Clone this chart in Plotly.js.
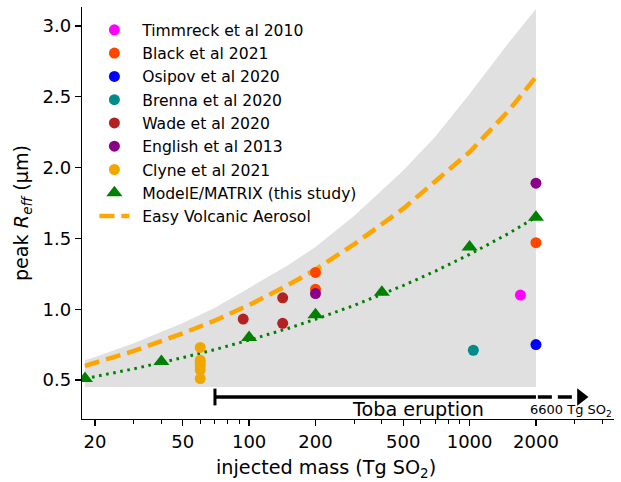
<!DOCTYPE html>
<html>
<head>
<meta charset="utf-8">
<script src="https://cdn.plot.ly/plotly-3.0.1.min.js"></script>
<style>html,body{margin:0;padding:0;background:#fff;}#chart{width:621px;height:482px;}</style>
</head>
<body>
<div id="chart"></div>
<script>
// ---- data ----
const timmreckX = [1700];            const timmreckY = [1.10];
const blackX = [200, 200, 2000];     const blackY = [1.26, 1.14, 1.47];
const osipovX = [2000];              const osipovY = [0.75];
const brennaX = [1040];              const brennaY = [0.71];
const wadeX = [94, 142, 142];        const wadeY = [0.93, 1.08, 0.90];
const englishX = [200, 2000];        const englishY = [1.11, 1.89];
const clyneX = [60, 60, 60, 60, 60, 60]; const clyneY = [0.73, 0.64, 0.62, 0.60, 0.57, 0.51];
const matrixX = [18, 40, 100, 200, 400, 1000, 2000];
const matrixY = [0.51, 0.63, 0.80, 0.96, 1.12, 1.44, 1.65];

const curveX  = [18, 20, 30, 50, 70, 100, 150, 200, 300, 500, 700, 1000, 1500, 2000];
const fitY    = [0.51, 0.524, 0.579, 0.658, 0.715, 0.782, 0.864, 0.929, 1.027, 1.167, 1.269, 1.387, 1.534, 1.65];
const evaY    = [0.60, 0.62, 0.705, 0.83, 0.92, 1.03, 1.17, 1.28, 1.46, 1.71, 1.90, 2.11, 2.40, 2.64];
const bandHigh = [0.64, 0.663, 0.76, 0.902, 1.01, 1.15, 1.31, 1.44, 1.66, 1.98, 2.22, 2.52, 2.88, 3.12];
const bandLow  = [0.45, 0.45, 0.45, 0.45, 0.45, 0.45, 0.45, 0.45, 0.45, 0.45, 0.45, 0.45, 0.45, 0.45];

const tobaSolidX = [70, 2000];
const tobaDashX = [2040, 2970];
const tobaHeadX = [3200];
const tobaY = 0.38;

const legendNames = ['Timmreck et al 2010', 'Black et al 2021', 'Osipov et al 2020', 'Brenna et al 2020',
  'Wade et al 2020', 'English et al 2013', 'Clyne et al 2021', 'ModelE/MATRIX (this study)', 'Easy Volcanic Aerosol'];

const xTicks = [20, 50, 100, 200, 500, 1000, 2000];
const xTickText = ['20', '50', '100', '200', '500', '1000', '2000'];
const xMinor = [30, 40, 60, 70, 80, 90, 300, 400, 600, 700, 800, 900, 3000, 4000];
const yTicks = [0.5, 1.0, 1.5, 2.0, 2.5, 3.0];
const yTickText = ['0.5', '1.0', '1.5', '2.0', '2.5', '3.0'];

const FONT = 'DejaVu Sans, sans-serif';
const MS = 11;
const PAD = '\u2002';

function pts(i, x, y, color) {
  return {type: 'scatter', mode: 'markers', name: PAD + legendNames[i], x: x, y: y,
    marker: {color: color, size: MS, symbol: 'circle', line: {width: 0}},
    legendrank: 100 + i, hoverinfo: 'skip'};
}

const traces = [
  {type: 'scatter', mode: 'lines', x: curveX, y: bandLow, line: {width: 0, color: 'rgba(0,0,0,0)'}, showlegend: false, hoverinfo: 'skip'},
  {type: 'scatter', mode: 'lines', x: curveX, y: bandHigh, fill: 'tonexty', fillcolor: '#e0e0e0', line: {width: 0, color: 'rgba(0,0,0,0)'}, showlegend: false, hoverinfo: 'skip'},
  {type: 'scatter', mode: 'lines', x: curveX, y: evaY, name: PAD + legendNames[8], line: {color: '#FFA500', width: 4.5, dash: '15px,7px'}, legendrank: 108, hoverinfo: 'skip'},
  {type: 'scatter', mode: 'lines', x: curveX, y: fitY, line: {color: '#008000', width: 3, dash: '2.6px,4.6px'}, showlegend: false, hoverinfo: 'skip'},
  pts(0, timmreckX, timmreckY, '#FF00FF'),
  pts(1, blackX, blackY, '#FF4500'),
  pts(2, osipovX, osipovY, '#0000FF'),
  pts(3, brennaX, brennaY, '#008B8B'),
  pts(4, wadeX, wadeY, '#B22222'),
  pts(5, englishX, englishY, '#8B008B'),
  pts(6, clyneX, clyneY, '#F0A800'),
  {type: 'scatter', mode: 'markers', name: PAD + legendNames[7], x: matrixX, y: matrixY,
    marker: {color: '#008000', size: 14, symbol: 'triangle-up', line: {width: 0}}, legendrank: 107, hoverinfo: 'skip'},
  // Toba arrow
  {type: 'scatter', mode: 'lines', x: tobaSolidX, y: [tobaY, tobaY], line: {color: '#000', width: 3.5}, showlegend: false, hoverinfo: 'skip'},
  {type: 'scatter', mode: 'lines', x: tobaDashX, y: [tobaY, tobaY], line: {color: '#000', width: 3.5, dash: '14px,6px'}, showlegend: false, hoverinfo: 'skip'},
  {type: 'scatter', mode: 'markers', x: [tobaSolidX[0]], y: [tobaY], marker: {symbol: 'line-ns-open', size: 12, color: '#000', line: {color: '#000', width: 3}}, showlegend: false, hoverinfo: 'skip'},
  {type: 'scatter', mode: 'markers', x: tobaHeadX, y: [tobaY], marker: {symbol: 'triangle-right', size: 15, color: '#000', line: {width: 0}}, showlegend: false, hoverinfo: 'skip'}
];

const layout = {
  width: 621, height: 482,
  margin: {l: 82, r: 7, t: 7, b: 63},
  paper_bgcolor: '#fff', plot_bgcolor: '#fff',
  font: {family: FONT, size: 15.6, color: '#000'},
  showlegend: true,
  legend: {x: 0.0233, y: 0.985, xanchor: 'left', yanchor: 'top', bgcolor: 'rgba(0,0,0,0)',
    borderwidth: 0, font: {family: FONT, size: 15.6, color: '#000'}, traceorder: 'normal', itemwidth: 30},
  xaxis: {type: 'log', range: [1.242, 3.655], showline: true, linecolor: '#000', linewidth: 1.3,
    mirror: false, showgrid: false, zeroline: false, ticks: 'outside', ticklen: 6, tickwidth: 1.3, tickcolor: '#000',
    tickmode: 'array', tickvals: xTicks, ticktext: xTickText, tickfont: {family: FONT, size: 18, color: '#000'},
    minor: {tickmode: 'array', tickvals: xMinor, ticks: 'outside', ticklen: 3.5, tickwidth: 1, tickcolor: '#000', showgrid: false},
    automargin: false, fixedrange: true},
  yaxis: {range: [0.2246, 3.134], showline: true, linecolor: '#000', linewidth: 1.3,
    mirror: false, showgrid: false, zeroline: false, ticks: 'outside', ticklen: 6, tickwidth: 1.3, tickcolor: '#000',
    tickmode: 'array', tickvals: yTicks, ticktext: yTickText, tickfont: {family: FONT, size: 18, color: '#000'},
    title: {text: 'peak <i>R</i><sub><i>eff</i></sub> (μm)', font: {family: FONT, size: 19.2, color: '#000'}, standoff: 8},
    automargin: false, fixedrange: true},
  annotations: [
    {xref: 'paper', yref: 'paper', x: 0.4586, y: -0.119, text: 'injected mass (Tg SO<sub>2</sub>)', showarrow: false,
      font: {family: FONT, size: 19.2, color: '#000'}, xanchor: 'center', yanchor: 'middle'},
    {xref: 'x', yref: 'y', x: Math.log10(583), y: 0.295, text: 'Toba eruption', showarrow: false,
      font: {family: FONT, size: 19.2, color: '#000'}, xanchor: 'center', yanchor: 'middle'},
    {xref: 'x', yref: 'y', x: Math.log10(2880), y: 0.285, text: '6600 Tg SO<sub>2</sub>', showarrow: false,
      font: {family: FONT, size: 13, color: '#000'}, xanchor: 'center', yanchor: 'middle'}
  ]
};

Plotly.newPlot('chart', traces, layout, {staticPlot: true, displayModeBar: false});
</script>
</body>
</html>
